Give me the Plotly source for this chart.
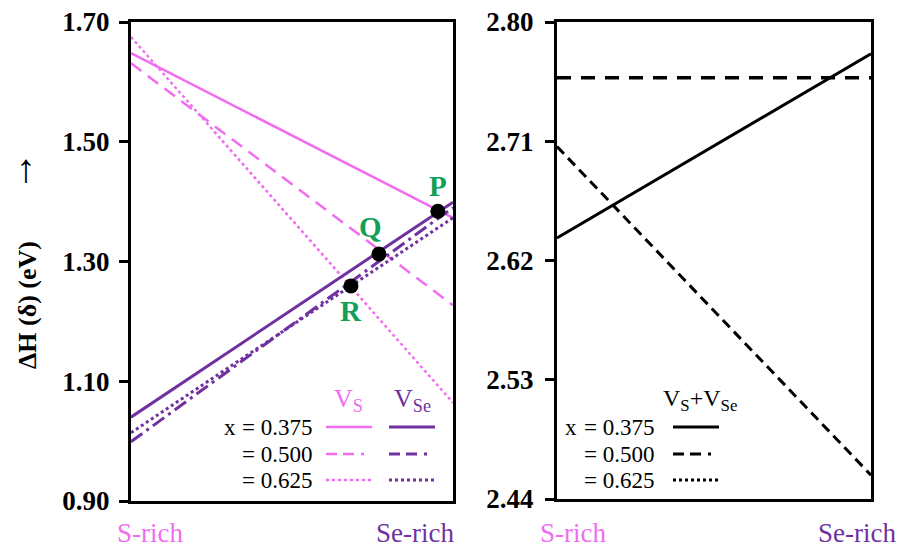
import plotly.graph_objects as go

# ---------------- data ----------------
x_ends = [0, 1]
# left panel: formation enthalpy of V_S and V_Se vs chemical potential
vs_0375 = [1.648, 1.373]
vs_0500 = [1.631, 1.227]
vs_0625 = [1.675, 1.064]
vse_0375 = [1.040, 1.399]
vse_0500 = [0.999, 1.390]
vse_0625 = [1.014, 1.373]
# crossing points
pt_labels = ["P", "Q", "R"]
pt_x = [0.953, 0.770, 0.683]
pt_y = [1.384, 1.3125, 1.259]
# right panel: V_S + V_Se
sum_0375 = [2.637, 2.776]
sum_0500 = [2.706, 2.458]
sum_0625 = [2.758, 2.758]

left_ticks = [0.90, 1.10, 1.30, 1.50, 1.70]
right_ticks = [2.44, 2.53, 2.62, 2.71, 2.80]
x_labels = ["S-rich", "Se-rich"]
legend_x = ["= 0.375", "= 0.500", "= 0.625"]

PINK = "#f06cf0"
PURPLE = "#7030a0"
GREEN = "#12a058"
FONT = "Times New Roman, Liberation Serif, serif"

W, H = 901, 552
def px(x):
    return x / W
def py(y):
    return 1 - y / H

fig = go.Figure()

def add(xv, yv, color, dash, width=2.5, xa="x", ya="y"):
    fig.add_trace(go.Scatter(x=xv, y=yv, mode="lines", xaxis=xa, yaxis=ya,
                             line=dict(color=color, dash=dash, width=width),
                             showlegend=False, hoverinfo="skip"))

add(x_ends, vs_0375, PINK, "solid")
add(x_ends, vs_0500, PINK, "13px,8px")
add(x_ends, vs_0625, PINK, "dot")
add(x_ends, vse_0375, PURPLE, "solid", 3)
add(x_ends, vse_0500, PURPLE, "14px,5px,3px,5px", 3)
add(x_ends, vse_0625, PURPLE, "dot", 3)

fig.add_trace(go.Scatter(x=pt_x, y=pt_y, mode="markers", xaxis="x", yaxis="y",
                         marker=dict(color="black", size=15, symbol="circle"),
                         showlegend=False, hoverinfo="skip"))

add(x_ends, sum_0375, "black", "solid", 3, "x2", "y2")
add(x_ends, sum_0500, "black", "10px,6px", 3, "x2", "y2")
add(x_ends, sum_0625, "black", "14px,10px", 3.5, "x2", "y2")

ax_common = dict(showline=True, linecolor="black", linewidth=3, mirror=True,
                 showgrid=False, zeroline=False, automargin=False)
fig.update_layout(
    width=W, height=H, autosize=False,
    margin=dict(l=0, r=0, t=0, b=0, pad=0),
    font=dict(family=FONT),
    paper_bgcolor="white", plot_bgcolor="white",
    xaxis=dict(domain=[px(131), px(453)], range=[0, 1], showticklabels=False,
               ticks="", **ax_common),
    yaxis=dict(domain=[py(501), py(22)], range=[0.90, 1.70], tickvals=left_ticks,
               tickformat=".2f", ticks="outside", ticklen=9, tickwidth=3,
               tickcolor="black", ticklabelstandoff=4,
               tickfont=dict(family=FONT, size=27, color="black", weight="bold"),
               **ax_common),
    xaxis2=dict(domain=[px(557), px(871)], range=[0, 1], showticklabels=False,
                ticks="", anchor="y2", **ax_common),
    yaxis2=dict(domain=[py(499), py(22)], range=[2.44, 2.80], tickvals=right_ticks,
                tickformat=".2f", ticks="outside", ticklen=9, tickwidth=3,
                tickcolor="black", anchor="x2", ticklabelstandoff=6,
                tickfont=dict(family=FONT, size=27, color="black", weight="bold"),
                **ax_common),
)

ann = []
def text(x, y, t, size=22, color="black", xanchor="center", bold=False, angle=0,
         xref="paper", yref="paper"):
    if bold:
        t = "<b>" + t + "</b>"
    ann.append(dict(x=x, y=y, xref=xref, yref=yref, text=t, showarrow=False,
                    xanchor=xanchor, yanchor="middle", textangle=angle,
                    font=dict(family=FONT, size=size, color=color)))

# point labels (offset in pixels from the data points)
offsets = [(0, -25), (-8, -27), (0, 25)]
for lab, xv, yv, (dx, dy) in zip(pt_labels, pt_x, pt_y, offsets):
    ann.append(dict(x=xv, y=yv, xref="x", yref="y", text="<b>" + lab + "</b>",
                    showarrow=False, xshift=dx, yshift=-dy,
                    font=dict(family=FONT, size=29, color=GREEN)))

# axis title and arrow
text(px(27), py(305), "ΔH (δ) (eV)", size=26, bold=True, angle=-90)
text(px(26), py(168), "↑", size=40)

# x-axis end labels
text(px(115), py(533), x_labels[0], size=27, color=PINK, xanchor="left")
text(px(456), py(533), x_labels[1], size=27, color=PURPLE, xanchor="right")
text(px(538), py(533), x_labels[0], size=27, color=PINK, xanchor="left")
text(px(898), py(533), x_labels[1], size=27, color=PURPLE, xanchor="right")

# left legend
text(px(348), py(400), "V<sub>S</sub>", size=26, color=PINK)
text(px(412), py(400), "V<sub>Se</sub>", size=26, color=PURPLE)
rows_y = [427, 454, 480]
text(px(222), py(rows_y[0]), "x", size=23, xanchor="left")
for lab, yy in zip(legend_x, rows_y):
    text(px(314), py(yy), lab, size=23, xanchor="right")

# right legend
text(px(700), py(400), "V<sub>S</sub>+V<sub>Se</sub>", size=24)
text(px(563), py(rows_y[0]), "x", size=23, xanchor="left")
for lab, yy in zip(legend_x, rows_y):
    text(px(656), py(yy), lab, size=23, xanchor="right")

fig.update_layout(annotations=ann)

# legend line samples
shapes = []
def sample(x0, x1, y, color, dash, width=2.5):
    shapes.append(dict(type="line", xref="paper", yref="paper",
                       x0=px(x0), x1=px(x1), y0=py(y), y1=py(y),
                       line=dict(color=color, dash=dash, width=width)))

dashdot = "11px,6px,11px,7px,3px,20px"
styles_left = ["solid", dashdot, "dot"]
for st, yy in zip(styles_left, rows_y):
    sample(326, 372, yy, PINK, st)
    sample(389, 435, yy, PURPLE, st, 3)
styles_right = ["solid", dashdot, "dot"]
for st, yy in zip(styles_right, rows_y):
    sample(673, 719, yy, "black", st, 3)

fig.update_layout(shapes=shapes)

fig.write_html("out.html")
